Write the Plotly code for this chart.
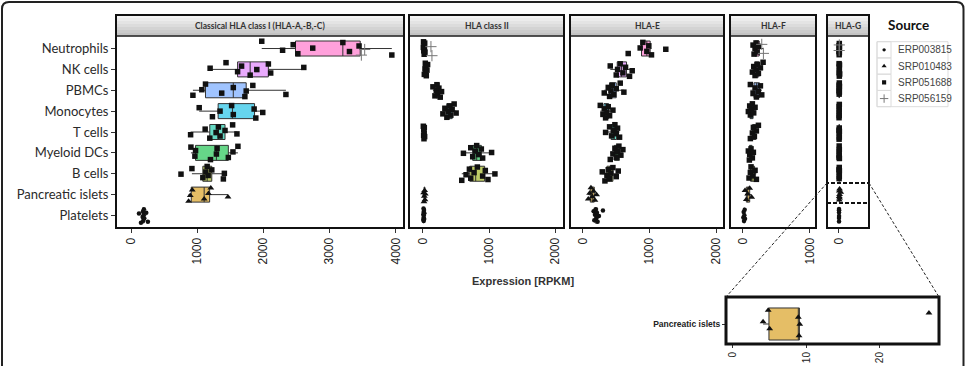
import numpy as np
import plotly.graph_objects as go

W, H = 969, 366

# ---------------- data ----------------
CELLS = ["Neutrophils", "NK cells", "PBMCs", "Monocytes", "T cells",
         "Myeloid DCs", "B cells", "Pancreatic islets", "Platelets"]
CELL_COLORS = ["#FF61C3", "#DB72FB", "#619CFF", "#00B9E3", "#00C19F",
               "#00BA38", "#93AA00", "#D39200", "#F8766D"]
SOURCES = ["ERP003815", "SRP010483", "SRP051688", "SRP056159"]
CELL_SOURCE = {"Neutrophils": "SRP051688", "NK cells": "SRP051688", "PBMCs": "SRP051688",
               "Monocytes": "SRP051688", "T cells": "SRP051688", "Myeloid DCs": "SRP051688",
               "B cells": "SRP051688", "Pancreatic islets": "SRP010483", "Platelets": "ERP003815"}
PANEL_TITLES = ["Classical HLA class I (HLA-A,-B,-C)", "HLA class II", "HLA-E", "HLA-F", "HLA-G"]
X_TICKS = [[0, 1000, 2000, 3000, 4000], [0, 1000, 2000], [0, 1000, 2000], [0, 1000], [0]]
INSET_TICKS = [0, 10, 20]
AXIS_TITLE = "Expression [RPKM]"
LEGEND_TITLE = "Source"

classI = {
    "Neutrophils": [1975, 2290, 2450, 2520, 2745, 3200, 3300, 3445, 3940],
    "NK cells": [1195, 1435, 1610, 1670, 1800, 1900, 2075, 2110, 2610],
    "PBMCs": [935, 1070, 1125, 1370, 1545, 1720, 1740, 1840, 2340],
    "Monocytes": [1030, 1230, 1345, 1520, 1545, 1860, 1885, 1990],
    "T cells": [900, 1120, 1190, 1285, 1320, 1345, 1420, 1535, 1600],
    "Myeloid DCs": [905, 965, 975, 1200, 1290, 1300, 1470, 1540, 1615],
    "B cells": [755, 920, 1085, 1130, 1150, 1165, 1220, 1395, 1410],
    "Pancreatic islets": [870, 895, 925, 1105, 1170, 1205, 1465],
    "Platelets": [120, 150, 175, 180, 185, 190, 195, 200, 230, 255],
}
classI_neutro_plus = [3480, 3530]

classII = {
    "Neutrophils": [5, 8, 12, 15, 18, 22, 26, 30],
    "NK cells": [20, 30, 35, 40, 45, 50, 60, 70],
    "PBMCs": [150, 180, 200, 210, 220, 240, 260, 280],
    "Monocytes": [300, 330, 360, 380, 400, 420, 440, 470, 500],
    "T cells": [5, 10, 12, 15, 18, 20, 25],
    "Myeloid DCs": [610, 720, 750, 790, 810, 840, 880, 900, 1035],
    "B cells": [585, 650, 700, 720, 770, 820, 900, 940, 980, 1085],
    "Pancreatic islets": [10, 15, 20, 25, 30, 35],
    "Platelets": [5, 6, 8, 9, 10, 11, 12, 15, 18, 20],
}
classII_neutro_plus = [120, 135]

hlaE = {
    "Neutrophils": [680, 860, 900, 960, 990, 1030, 1245],
    "NK cells": [410, 500, 520, 560, 600, 640, 700, 740],
    "PBMCs": [320, 380, 400, 420, 440, 460, 500, 560, 615],
    "Monocytes": [260, 300, 320, 340, 360, 380, 400, 450],
    "T cells": [340, 400, 430, 460, 480, 500, 520, 550],
    "Myeloid DCs": [410, 450, 480, 500, 520, 540, 570, 600],
    "B cells": [290, 330, 360, 380, 400, 420, 450, 500, 530],
    "Pancreatic islets": [80, 100, 120, 140, 160, 180, 205],
    "Platelets": [160, 170, 180, 190, 200, 210, 220, 240, 300],
}
hlaE_neutro_plus = []

hlaF = {
    "Neutrophils": [150, 165, 180, 195, 210, 230],
    "NK cells": [140, 160, 180, 200, 215, 230, 260, 300],
    "PBMCs": [110, 150, 180, 200, 230, 260, 280],
    "Monocytes": [80, 100, 110, 120, 140, 160, 180],
    "T cells": [110, 140, 155, 170, 200, 230],
    "Myeloid DCs": [80, 95, 100, 120, 140, 155],
    "B cells": [90, 110, 120, 150, 180, 200],
    "Pancreatic islets": [30, 50, 70, 100, 130],
    "Platelets": [5, 10, 15, 20, 25, 30],
}
hlaF_neutro_plus = [280, 305]

hlaG = {
    "Neutrophils": [1, 2, 3, 4, 5, 6, 8],
    "NK cells": [2, 3, 4, 5, 6, 8, 10],
    "PBMCs": [1, 2, 3, 4, 5, 6, 7],
    "Monocytes": [1, 2, 2, 3, 4, 5],
    "T cells": [1, 2, 3, 4, 5, 6],
    "Myeloid DCs": [1, 2, 3, 4, 5, 6],
    "B cells": [1, 2, 3, 4, 5, 6],
    "Pancreatic islets": [4.1, 4.8, 5.0, 8.9, 9.0, 9.1, 26.7],
    "Platelets": [0.2, 0.4, 0.6, 0.8, 1.0, 1.2],
}
hlaG_neutro_plus = [3, 5]

PANEL_DATA = [classI, classII, hlaE, hlaF, hlaG]
PANEL_PLUS = [classI_neutro_plus, classII_neutro_plus, hlaE_neutro_plus,
              hlaF_neutro_plus, hlaG_neutro_plus]

# ---------------- layout geometry (pixels) ----------------
PANEL_X = [(116, 404), (409, 564), (570, 724), (730, 816), (827, 869)]
PANEL_RANGE = [(-227, 4124), (-211, 2127), (-195, 2120), (-194, 1090), (-180, 451)]
STRIP_TOP, PLOT_TOP, PLOT_BOT = 15, 36, 228
INSET = (726, 297, 939, 344)
ZOOM_RECT = (827, 183, 869, 203)
LEG = (877, 41.7, 948, 106.7)


def px(x):
    return x / W


def py(y):
    return 1 - y / H


def rgba(hexc, a):
    hexc = hexc.lstrip("#")
    r, g, b = int(hexc[0:2], 16), int(hexc[2:4], 16), int(hexc[4:6], 16)
    return f"rgba({r},{g},{b},{a})"


def jit(n, k):
    return (((np.arange(n) + k * 2.3) * 0.618034) % 1 - 0.5) * 0.7


def box_stats(v):
    v = np.asarray(v, float)
    q1, med, q3 = np.percentile(v, [25, 50, 75])
    iqr = q3 - q1
    lf = v[v >= q1 - 1.5 * iqr].min()
    uf = v[v <= q3 + 1.5 * iqr].max()
    return q1, med, q3, lf, uf


SYMBOL = {"ERP003815": dict(symbol="circle", size=4.5, color="#111"),
          "SRP010483": dict(symbol="triangle-up", size=6, color="#111"),
          "SRP051688": dict(symbol="square", size=5.5, color="#111"),
          "SRP056159": dict(symbol="cross-thin", size=8, color="#777",
                            line=dict(width=1, color="#777"))}

fig = go.Figure()

for i, data in enumerate(PANEL_DATA):
    xa = "x" if i == 0 else f"x{i + 1}"
    # boxes
    for j, cell in enumerate(CELLS):
        vals = list(data[cell]) + (list(PANEL_PLUS[i]) if cell == "Neutrophils" else [])
        q1, med, q3, lf, uf = box_stats(vals)
        fig.add_trace(go.Box(y=[j], q1=[q1], median=[med], q3=[q3], lowerfence=[lf],
                             upperfence=[uf], orientation="h", width=0.72,
                             fillcolor=rgba(CELL_COLORS[j], 0.6),
                             line=dict(color="#333333", width=1), whiskerwidth=0,
                             boxpoints=False, xaxis=xa, yaxis="y",
                             showlegend=False, hoverinfo="skip"))
    # points by source
    pts = {s: ([], []) for s in SOURCES}
    for j, cell in enumerate(CELLS):
        v = data[cell]
        s = CELL_SOURCE[cell]
        pts[s][0].extend(v)
        pts[s][1].extend(list(j + jit(len(v), j + i)))
        if cell == "Neutrophils" and PANEL_PLUS[i]:
            pv = PANEL_PLUS[i]
            pts["SRP056159"][0].extend(pv)
            pts["SRP056159"][1].extend(list(j + jit(len(pv), 7 + i)))
    for s in SOURCES:
        if pts[s][0]:
            fig.add_trace(go.Scatter(x=pts[s][0], y=pts[s][1], mode="markers",
                                     marker=SYMBOL[s], xaxis=xa, yaxis="y",
                                     showlegend=False, hoverinfo="skip"))

# inset (HLA-G, Pancreatic islets)
pi_vals = hlaG["Pancreatic islets"]
q1, med, q3, lf, uf = box_stats(pi_vals)
fig.add_trace(go.Box(y=[0], q1=[q1], median=[med], q3=[q3], lowerfence=[lf], upperfence=[uf],
                     orientation="h", width=0.75, fillcolor=rgba(CELL_COLORS[7], 0.6),
                     line=dict(color="#333333", width=1), whiskerwidth=0, boxpoints=False,
                     xaxis="x7", yaxis="y7", showlegend=False, hoverinfo="skip"))
fig.add_trace(go.Scatter(x=pi_vals, y=list(-jit(len(pi_vals), 1)), mode="markers",
                         marker=dict(symbol="triangle-up", size=6, color="#111"),
                         xaxis="x7", yaxis="y7", showlegend=False, hoverinfo="skip"))

# legend markers
for k, s in enumerate(SOURCES):
    m = dict(SYMBOL[s])
    m["size"] = m["size"] * 0.75
    fig.add_trace(go.Scatter(x=[0.1], y=[k], mode="markers", marker=m, xaxis="x6",
                             yaxis="y6", showlegend=False, hoverinfo="skip"))

layout = dict(width=W, height=H, margin=dict(l=0, r=0, t=0, b=0),
              paper_bgcolor="white", plot_bgcolor="rgba(0,0,0,0)", showlegend=False)

tickfont_x = dict(family="Liberation Sans, Arial", size=12, color="#222")
for i in range(5):
    name = "xaxis" if i == 0 else f"xaxis{i + 1}"
    layout[name] = dict(domain=[px(PANEL_X[i][0]), px(PANEL_X[i][1])], range=list(PANEL_RANGE[i]),
                        tickvals=X_TICKS[i], ticktext=[str(t) for t in X_TICKS[i]],
                        tickangle=-90, ticks="outside", ticklen=4, tickcolor="#333",
                        tickfont=tickfont_x, showgrid=False, zeroline=False, showline=False,
                        anchor="y", fixedrange=True)
layout["yaxis"] = dict(domain=[py(PLOT_BOT), py(PLOT_TOP)], range=[8.6, -0.6],
                       tickvals=list(range(len(CELLS))), ticktext=CELLS, ticks="outside",
                       ticklen=4, tickcolor="#333",
                       tickfont=dict(family="Lato", size=13, color="#2a2a2a"),
                       showgrid=False, zeroline=False, showline=False, anchor="x")
layout["xaxis6"] = dict(domain=[px(LEG[0]), px(LEG[2])], range=[0, 1], visible=False, anchor="y6")
layout["yaxis6"] = dict(domain=[py(LEG[3]), py(LEG[1])], range=[3.5, -0.5], visible=False, anchor="x6")
layout["xaxis7"] = dict(domain=[px(INSET[0]), px(INSET[2])], range=[-0.95, 28.07],
                        tickvals=INSET_TICKS, ticktext=[str(t) for t in INSET_TICKS],
                        tickangle=-90, ticks="outside", ticklen=3, tickcolor="#333",
                        tickfont=dict(family="Liberation Sans, Arial", size=10, color="#222"),
                        showgrid=False, zeroline=False, showline=False, anchor="y7")
layout["yaxis7"] = dict(domain=[py(INSET[3]), py(INSET[1])], range=[-0.468, 0.632],
                        tickvals=[0], ticktext=["<b>Pancreatic islets</b>"], ticks="outside",
                        ticklen=3, tickcolor="#333",
                        tickfont=dict(family="Liberation Sans, Arial", size=8.5, color="#222"),
                        showgrid=False, zeroline=False, showline=False, anchor="x7")

shapes = []
annotations = []

# strips with gradient + panel borders
grad = ["#f4f4f4", "#ececec", "#e4e4e4", "#dcdcdc", "#d3d3d3", "#cbcbcb", "#c3c3c3"]
for i, (x0, x1) in enumerate(PANEL_X):
    step = (PLOT_TOP - STRIP_TOP) / len(grad)
    for g, c in enumerate(grad):
        shapes.append(dict(type="rect", xref="paper", yref="paper", x0=px(x0), x1=px(x1),
                           y0=py(STRIP_TOP + g * step), y1=py(STRIP_TOP + (g + 1) * step + 0.5),
                           fillcolor=c, line=dict(width=0), layer="below"))
    shapes.append(dict(type="line", xref="paper", yref="paper", x0=px(x0), x1=px(x1),
                       y0=py(PLOT_TOP), y1=py(PLOT_TOP), line=dict(color="#222", width=1.5)))
    shapes.append(dict(type="rect", xref="paper", yref="paper", x0=px(x0), x1=px(x1),
                       y0=py(PLOT_BOT), y1=py(STRIP_TOP), line=dict(color="#111", width=2)))
    annotations.append(dict(text=f"<b>{PANEL_TITLES[i]}</b>", xref="paper", yref="paper",
                            x=px((x0 + x1) / 2), y=py((STRIP_TOP + PLOT_TOP) / 2),
                            showarrow=False, xanchor="center", yanchor="middle",
                            font=dict(family="Lato", size=8.5, color="#333")))

# axis title
annotations.append(dict(text=f"<b>{AXIS_TITLE}</b>", xref="paper", yref="paper", x=px(523),
                        y=py(281), showarrow=False, xanchor="center", yanchor="middle",
                        font=dict(family="Liberation Sans, Arial", size=11, color="#333")))

# legend
annotations.append(dict(text=f"<b>{LEGEND_TITLE}</b>", xref="paper", yref="paper", x=px(908),
                        y=py(25), showarrow=False, xanchor="center", yanchor="middle",
                        font=dict(family="Lato", size=13.5, color="#111")))
shapes.append(dict(type="rect", xref="paper", yref="paper", x0=px(LEG[0]), x1=px(LEG[2]),
                   y0=py(LEG[3]), y1=py(LEG[1]), line=dict(color="#dddddd", width=1)))
row_h = (LEG[3] - LEG[1]) / len(SOURCES)
for k, s in enumerate(SOURCES):
    yc = LEG[1] + (k + 0.5) * row_h
    shapes.append(dict(type="rect", xref="paper", yref="paper", x0=px(LEG[0]), x1=px(LEG[0] + 14),
                       y0=py(yc + row_h / 2), y1=py(yc - row_h / 2),
                       line=dict(color="#dcdcdc", width=1)))
    annotations.append(dict(text=s, xref="paper", yref="paper", x=px(LEG[0] + 19), y=py(yc),
                            showarrow=False, xanchor="left", yanchor="middle",
                            font=dict(family="Liberation Sans, Arial", size=10, color="#444")))

# inset border, zoom rect and connecting lines
shapes.append(dict(type="rect", xref="paper", yref="paper", x0=px(INSET[0]), x1=px(INSET[2]),
                   y0=py(INSET[3]), y1=py(INSET[1]), line=dict(color="#111", width=3)))
shapes.append(dict(type="rect", xref="paper", yref="paper", x0=px(ZOOM_RECT[0]), x1=px(ZOOM_RECT[2]),
                   y0=py(ZOOM_RECT[3]), y1=py(ZOOM_RECT[1]),
                   line=dict(color="#111", width=2, dash="4px,2px")))
shapes.append(dict(type="line", xref="paper", yref="paper", x0=px(ZOOM_RECT[0]), y0=py(ZOOM_RECT[1]),
                   x1=px(INSET[0]), y1=py(INSET[1]), line=dict(color="#222", width=1, dash="3px,2px")))
shapes.append(dict(type="line", xref="paper", yref="paper", x0=px(ZOOM_RECT[2]), y0=py(ZOOM_RECT[1]),
                   x1=px(INSET[2]), y1=py(INSET[1]), line=dict(color="#222", width=1, dash="3px,2px")))

# outer rounded frame
r = 7
fx0, fy0, fx1, fy1 = 2, 2, 963.5, 380
path = (f"M {px(fx0 + r)},{py(fy0)} L {px(fx1 - r)},{py(fy0)} "
        f"Q {px(fx1)},{py(fy0)} {px(fx1)},{py(fy0 + r)} L {px(fx1)},{py(fy1)} "
        f"L {px(fx0)},{py(fy1)} L {px(fx0)},{py(fy0 + r)} "
        f"Q {px(fx0)},{py(fy0)} {px(fx0 + r)},{py(fy0)} Z")
shapes.append(dict(type="path", xref="paper", yref="paper", path=path,
                   line=dict(color="#222", width=2)))

layout["shapes"] = shapes
layout["annotations"] = annotations
fig.update_layout(**layout)
fig.write_html("out.html")
